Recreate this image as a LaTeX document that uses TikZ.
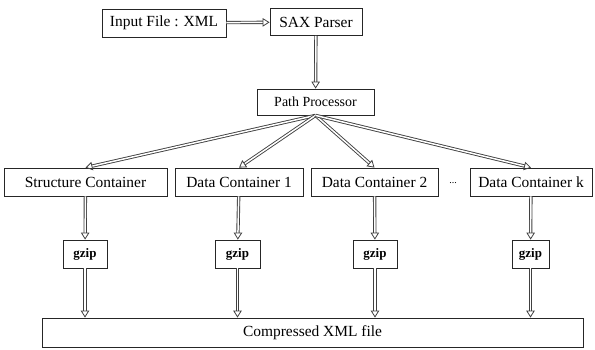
\documentclass[tikz,border=0pt]{standalone}
\usepackage{fontspec}
\setmainfont{Liberation Serif}
\usetikzlibrary{arrows.meta}
\begin{document}
\begin{tikzpicture}[x=1bp,y=-1bp,
  box/.style={draw=black!85, line width=0.8pt, inner sep=0pt, font=\fontsize{15.5}{16}\selectfont},
  gz/.style={box, font=\fontsize{13}{14}\selectfont\bfseries},
  flow/.style={draw=black!75, line width=0.9pt, double=white, double distance=1.5pt,
    -{Triangle[open, length=7pt, width=8.5pt, line width=0.8pt]}}]
\useasboundingbox (0,0) rectangle (595,349);
% top row
\node[box, minimum width=124bp, minimum height=28bp] (inp) at (164,23) {Input File : XML};
\node[box, minimum width=92bp, minimum height=27bp] (sax) at (316,22) {SAX Parser};
\node[box, minimum width=117bp, minimum height=26bp, font=\fontsize{14}{15}\selectfont] (pp) at (315.5,102) {Path Processor};
% containers
\node[box, minimum width=163bp, minimum height=28bp] (sc) at (85.5,182) {Structure Container};
\node[box, minimum width=128bp, minimum height=28bp] (dc1) at (239,182) {Data Container 1};
\node[box, minimum width=127bp, minimum height=28bp] (dc2) at (374.5,182) {Data Container 2};
\node[font=\fontsize{10}{11}\selectfont] (dots) at (453,183) {...};
\node[box, minimum width=122bp, minimum height=28bp] (dck) at (531,182) {Data Container k};
% compressors
\node[gz, minimum width=44bp, minimum height=28bp] (g1) at (85,254) {gzip};
\node[gz, minimum width=45bp, minimum height=28bp] (g2) at (237.5,254) {gzip};
\node[gz, minimum width=44bp, minimum height=28bp] (g3) at (375,254) {gzip};
\node[gz, minimum width=37bp, minimum height=28bp] (g4) at (530.5,254) {gzip};
% output
\node[box, minimum width=541bp, minimum height=29bp] (cx) at (312.5,332.5) {Compressed XML file};
% connectors
\draw[flow] (inp) -- (sax);
\draw[flow] (sax) -- (pp);
\draw[flow] (pp.south) -- (sc.north);
\draw[flow] (pp.south) -- (dc1.north);
\draw[flow] (pp.south) -- (dc2.north);
\draw[flow] (pp.south) -- (dck.north);
\draw[flow] (sc) -- (g1);
\draw[flow] (dc1) -- (g2);
\draw[flow] (dc2) -- (g3);
\draw[flow] (dck) -- (g4);
\foreach \g in {g1,g2,g3,g4}
  \draw[flow] (\g.south) -- (\g.south |- cx.north);
\end{tikzpicture}
\end{document}
